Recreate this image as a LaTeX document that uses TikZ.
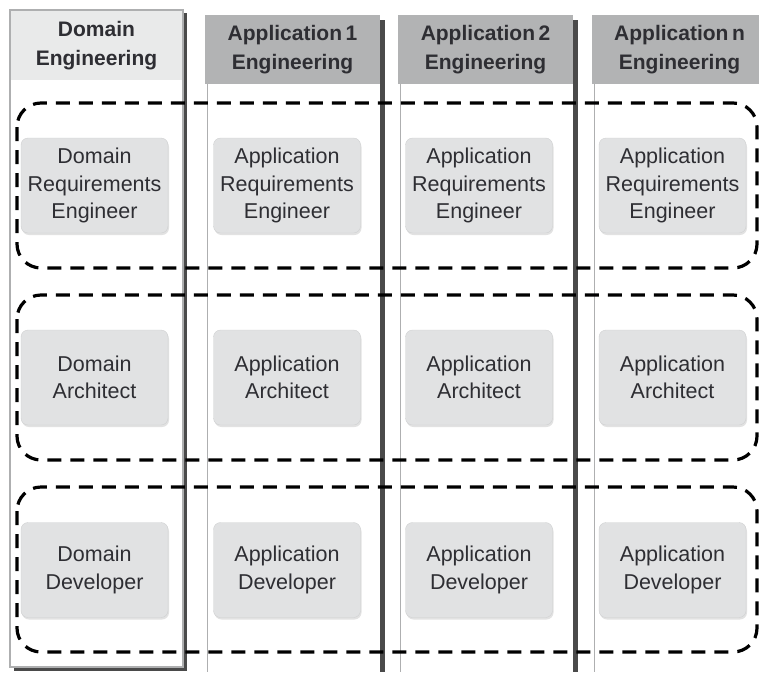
\documentclass[tikz,border=0pt]{standalone}
\usepackage{fontspec}
\setmainfont{Liberation Sans}
\usetikzlibrary{shadows}
\definecolor{headdom}{HTML}{E9EAEA}
\definecolor{headapp}{HTML}{B2B3B4}
\definecolor{rolefill}{HTML}{E1E2E3}
\definecolor{roleline}{HTML}{CFD0D1}
\definecolor{colline}{HTML}{AEAFB0}
\definecolor{colshadow}{HTML}{4A4A4A}
\definecolor{txt}{HTML}{2E2E33}
\tikzset{
  head/.style={minimum width=175pt, minimum height=69pt, inner sep=0pt, align=center,
    text=txt, font=\fontsize{21}{29}\selectfont\bfseries},
  role/.style={draw=roleline, fill=rolefill, rounded corners=7pt, minimum width=147pt,
    minimum height=95pt, inner sep=0pt, align=center, text=txt,
    font=\fontsize{21.5}{27.5}\selectfont,
    drop shadow={shadow xshift=1pt, shadow yshift=-2pt, fill=gray!45}},
  group/.style={black, line width=3.2pt, dash pattern=on 14pt off 9pt, rounded corners=24pt},
}
\begin{document}
\begin{tikzpicture}[x=1pt,y=-1pt]
\useasboundingbox (0,0) rectangle (759,672);
% domain column
\fill[colshadow] (14,13) rectangle (187,671);
\draw[colline, fill=white, line width=1.2pt] (10,10) rectangle (183,667);
\node[head, fill=headdom, minimum width=171pt] (dom-head) at (96.5,45.5) {Domain\\Engineering};
% application columns
\foreach \x/\n in {205/1, 398/2, 592/n} {
    \fill[colshadow] (\x+175,20) rectangle (\x+180,672);
    \draw[colline, line width=1.2pt] (\x+2.5,84) -- (\x+2.5,672);
    \node[head, fill=headapp] (app\n-head) at (\x+87.5,49.5) {Application\,\n\\Engineering};
}
% roles
\node[role] (dom-req) at (94.5,185.5) {Domain\\Requirements\\Engineer};
\node[role] (dom-arch) at (94.5,377.5) {Domain\\Architect};
\node[role] (dom-dev) at (94.5,570) {Domain\\Developer};
\foreach \x/\n in {287/1, 479/2, 672.5/n} {
    \node[role] (app\n-req) at (\x,185.5) {Application\\Requirements\\Engineer};
    \node[role] (app\n-arch) at (\x,377.5) {Application\\Architect};
    \node[role] (app\n-dev) at (\x,570) {Application\\Developer};
}
% dashed groups
\foreach \t/\b in {103/268, 295/460, 487/652} {
    \draw[group] (17,\t) rectangle (757,\b);
}
\end{tikzpicture}
\end{document}
